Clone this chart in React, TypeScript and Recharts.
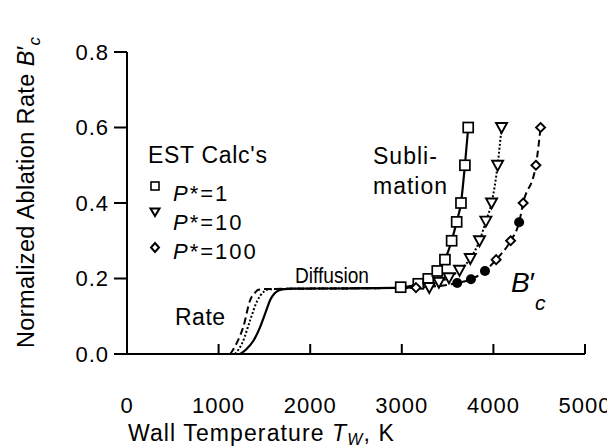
import React from "react";
import { ComposedChart, Line, Scatter, XAxis, YAxis } from "recharts";

// ---- data ----
const xTicks = [0, 1000, 2000, 3000, 4000, 5000];
const yTicks = [0, 0.2, 0.4, 0.6, 0.8];

// EST calc points
const sqX = [2988, 3180, 3289, 3387, 3471, 3544, 3599, 3646, 3689, 3725];
const sqY = [0.177, 0.186, 0.199, 0.22, 0.25, 0.3, 0.35, 0.4, 0.5, 0.6];

const triX = [3300, 3405, 3515, 3630, 3748, 3848, 3918, 3980, 4046, 4089];
const triY = [0.176, 0.19, 0.202, 0.222, 0.253, 0.3, 0.352, 0.4, 0.5, 0.6];

const diaX = [3155, 3605, 3755, 3908, 4030, 4188, 4281, 4325, 4464, 4515];
const diaY = [0.176, 0.188, 0.198, 0.22, 0.25, 0.3, 0.349, 0.4, 0.5, 0.6];
const diaFilled = [false, true, true, true, false, false, true, false, false, false];

// B'c curves
const solidX = [1236, 1300, 1380, 1454, 1520, 1563, 1610, 1654, 1720, 1800, 2500, 2988, 3180, 3289, 3387, 3471, 3544, 3599, 3646, 3689, 3725];
const solidY = [0, 0.012, 0.035, 0.072, 0.115, 0.143, 0.16, 0.168, 0.172, 0.173, 0.174, 0.176, 0.186, 0.199, 0.22, 0.25, 0.3, 0.35, 0.4, 0.5, 0.6];

const dotX = [1180, 1260, 1345, 1420, 1480, 1527, 1600, 2500, 3300, 3405, 3515, 3630, 3748, 3848, 3918, 3980, 4046, 4089];
const dotY = [0, 0.03, 0.09, 0.14, 0.162, 0.17, 0.172, 0.174, 0.176, 0.19, 0.202, 0.222, 0.253, 0.3, 0.352, 0.4, 0.5, 0.6];

const dashX = [1127, 1200, 1270, 1345, 1400, 1432, 1500, 2500, 3155, 3605, 3755, 3908, 4030, 4188, 4281, 4325, 4464, 4515];
const dashY = [0, 0.03, 0.072, 0.143, 0.163, 0.17, 0.172, 0.174, 0.176, 0.188, 0.198, 0.22, 0.25, 0.3, 0.349, 0.4, 0.5, 0.6];

const legendLabels = ["1", "10", "100"];

const zip = (xs: number[], ys: number[]) => xs.map((x, i) => ({ x, y: ys[i] }));

const sqData = zip(sqX, sqY);
const triData = zip(triX, triY);
const diaData = diaX.map((x, i) => ({ x, y: diaY[i], filled: diaFilled[i] }));
const solidData = zip(solidX, solidY);
const dotData = zip(dotX, dotY);
const dashData = zip(dashX, dashY);

const FONT = "'Liberation Sans', Arial, Helvetica, sans-serif";
const W = 607;
const H = 440;

const SquareShape = (p: any) => (
  <rect x={p.cx - 5} y={p.cy - 5} width={10} height={10} fill="#fff" stroke="#000" strokeWidth={1.7} />
);
const TriShape = (p: any) => (
  <path d={`M${p.cx - 5.5},${p.cy - 4.5} L${p.cx + 5.5},${p.cy - 4.5} L${p.cx},${p.cy + 5.5} Z`} fill="#fff" stroke="#000" strokeWidth={1.9} />
);
const DiaShape = (p: any) =>
  p.payload && p.payload.filled ? (
    <circle cx={p.cx} cy={p.cy} r={5} fill="#000" />
  ) : (
    <path d={`M${p.cx},${p.cy - 4.5} L${p.cx + 4.5},${p.cy} L${p.cx},${p.cy + 4.5} L${p.cx - 4.5},${p.cy} Z`} fill="#fff" stroke="#000" strokeWidth={1.9} />
  );

const XTick = (p: any) => (
  <g>
    <line x1={p.x} x2={p.x} y1={p.y} y2={p.y - 10} stroke="#000" strokeWidth={2} />
    <text x={p.x} y={p.y + 59} textAnchor="middle" fontSize={22} fontFamily={FONT} fill="#000" letterSpacing={1}>
      {p.payload.value}
    </text>
  </g>
);

const YTick = (p: any) => (
  <g>
    <line x1={p.x} x2={p.x - 13} y1={p.y} y2={p.y} stroke="#000" strokeWidth={2} />
    <text x={p.x - 18} y={p.y} dy="0.36em" textAnchor="end" fontSize={22} fontFamily={FONT} fill="#000" letterSpacing={1}>
      {Number(p.payload.value).toFixed(1)}
    </text>
  </g>
);

export default function App() {
  return (
    <div style={{ position: "relative", width: W, height: H, background: "#fff" }}>
      <ComposedChart width={W} height={H} margin={{ top: 44, right: 30, bottom: 64, left: 49 }}>
        <XAxis
          type="number"
          dataKey="x"
          domain={[0, 5000]}
          ticks={xTicks}
          tickSize={0}
          tickMargin={0}
          tick={<XTick />}
          height={30}
          axisLine={{ stroke: "#000", strokeWidth: 2 }}
          allowDataOverflow
        />
        <YAxis
          type="number"
          dataKey="y"
          domain={[0, 0.8]}
          ticks={yTicks}
          tickSize={0}
          tickMargin={0}
          tick={<YTick />}
          width={70}
          axisLine={{ stroke: "#000", strokeWidth: 2 }}
          allowDataOverflow
        />
        <Line data={solidData} dataKey="y" type="monotone" stroke="#000" strokeWidth={2.2} dot={false} isAnimationActive={false} />
        <Line data={dotData} dataKey="y" type="monotone" stroke="#000" strokeWidth={2} strokeDasharray="2 2" dot={false} isAnimationActive={false} />
        <Line data={dashData} dataKey="y" type="monotone" stroke="#000" strokeWidth={2} strokeDasharray="7 4" dot={false} isAnimationActive={false} />
        <Scatter data={sqData} dataKey="y" shape={SquareShape} isAnimationActive={false} />
        <Scatter data={triData} dataKey="y" shape={TriShape} isAnimationActive={false} />
        <Scatter data={diaData} dataKey="y" shape={DiaShape} isAnimationActive={false} />
      </ComposedChart>
      <svg width={W} height={H} style={{ position: "absolute", left: 0, top: 0, pointerEvents: "none" }} fontFamily={FONT} fill="#000">
        {/* y axis title */}
        <text transform="translate(26,340) rotate(-90)" fontSize={23.5} textAnchor="start" letterSpacing={0.4}>
          Normalized Ablation Rate{" "}
          <tspan fontStyle="italic">B</tspan>
          <tspan>′</tspan>
          <tspan fontStyle="italic" fontSize={17} dy={6}>c</tspan>
        </text>
        {/* x axis title */}
        <text x={120} y={433} fontSize={23} letterSpacing={1.1}>
          Wall Temperature <tspan fontStyle="italic">T</tspan>
          <tspan fontStyle="italic" fontSize={16} dy={4}>W</tspan>
          <tspan dy={-4}>, K</tspan>
        </text>
        {/* legend */}
        <text x={140} y={155} fontSize={23} letterSpacing={0.7}>EST Calc's</text>
        <rect x={143} y={174} width={8} height={8} fill="#fff" stroke="#000" strokeWidth={1.6} />
        <path d="M142.5,200.5 L151.5,200.5 L147,208 Z" fill="#fff" stroke="#000" strokeWidth={2} />
        <path d="M147,235 L151,239.5 L147,244 L143,239.5 Z" fill="#fff" stroke="#000" strokeWidth={2} />
        {legendLabels.map((l, i) => (
          <text key={l} x={165} y={193 + i * 29} fontSize={22} letterSpacing={2}>
            <tspan fontStyle="italic">P</tspan>*={l}
          </text>
        ))}
        {/* annotations */}
        <text x={167} y={317} fontSize={23} letterSpacing={0.5}>Rate</text>
        <text x={287} y={275} fontSize={21.5} textLength={74} lengthAdjust="spacingAndGlyphs">Diffusion</text>
        <text x={365} y={156} fontSize={23} letterSpacing={1}>Subli-</text>
        <text x={365} y={186} fontSize={23} letterSpacing={1}>mation</text>
        <text x={503} y={284} fontSize={28} fontStyle="italic">
          B<tspan fontStyle="normal">′</tspan>
          <tspan fontSize={21} dy={18}>c</tspan>
        </text>
      </svg>
    </div>
  );
}
